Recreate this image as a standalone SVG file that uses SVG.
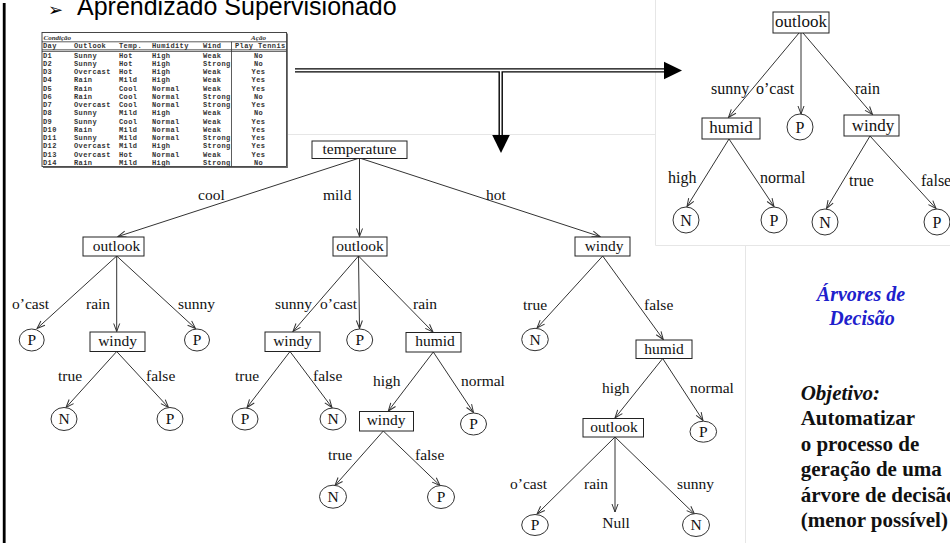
<svg xmlns="http://www.w3.org/2000/svg" width="950" height="543" viewBox="0 0 950 543">
<defs>
<style>
.t{font-family:"Liberation Serif","Times New Roman",serif;font-size:15.5px;fill:#111}
.tr{font-family:"Liberation Serif","Times New Roman",serif;font-size:16px;fill:#111}
.m{text-anchor:middle}
.box{fill:#fff;stroke:#222;stroke-width:1}
.leaf{fill:#fff;stroke:#333;stroke-width:1}
.e{stroke:#333;stroke-width:1;fill:none;marker-end:url(#ah)}
.tb{font-family:"Liberation Mono","Courier New",monospace;font-size:7px;font-weight:bold;letter-spacing:0.4px;fill:#333}
.tbi{font-family:"Liberation Serif",serif;font-size:7px;font-style:italic;font-weight:bold;fill:#333}
.tl{stroke:#333;stroke-width:0.8}
.faint{stroke:#e6e6e6;stroke-width:1;fill:none}
.blue{font-family:"Liberation Serif","Times New Roman",serif;font-size:20px;font-weight:bold;font-style:italic;fill:#2020cc;text-anchor:middle}
.obj{font-family:"Liberation Serif","Times New Roman",serif;font-size:21px;font-weight:bold;fill:#111}
</style>
<marker id="ah" markerWidth="10" markerHeight="8" refX="9" refY="4" orient="auto" markerUnits="userSpaceOnUse" viewBox="0 0 10 8">
<path d="M1,1 L9,4 L1,7" fill="none" stroke="#333" stroke-width="1"/>
</marker>
</defs>
<rect width="950" height="543" fill="#fff"/>
<g id="panels">
<path class="faint" d="M655.5,0 V245.5 H950 M745.5,245.5 V543 M288,134.5 H655.5"/>
</g>
<rect x="2.8" y="3" width="2.8" height="540" fill="#000"/>
<g id="title">
<text x="48" y="16" style="font-family:'DejaVu Sans',sans-serif;font-size:18px;fill:#000">➢</text>
<text x="77" y="15" style="font-family:'Liberation Sans',Arial,sans-serif;font-size:25px;fill:#000">Aprendizado Supervisionado</text>
</g>
<g id="table">
<rect x="42" y="32.5" width="244.5" height="134" fill="#fff" stroke="#333" stroke-width="0.9"/>
<path d="M287.3,33.5 V167.4 H43" stroke="#666" stroke-width="1.2" fill="none"/>
<line class="tl" x1="42" y1="41.8" x2="286.5" y2="41.8"/>
<line class="tl" x1="42" y1="49.8" x2="286.5" y2="49.8"/>
<line class="tl" x1="42" y1="51.4" x2="286.5" y2="51.4"/>
<line class="tl" x1="231.5" y1="41.8" x2="231.5" y2="166.5"/>
<text class="tbi" x="43.5" y="39.5">Condição</text>
<text class="tbi m" x="258.5" y="39.5">Ação</text>
<text class="tb" y="48"><tspan x="43">Day</tspan><tspan x="74">Outlook</tspan><tspan x="119">Temp.</tspan><tspan x="152">Humidity</tspan><tspan x="203">Wind</tspan><tspan x="235">Play Tennis</tspan></text>
<text class="tb" y="57.5"><tspan x="43">D1</tspan><tspan x="74">Sunny</tspan><tspan x="119">Hot</tspan><tspan x="152">High</tspan><tspan x="203">Weak</tspan></text>
<text class="tb" y="65.75"><tspan x="43">D2</tspan><tspan x="74">Sunny</tspan><tspan x="119">Hot</tspan><tspan x="152">High</tspan><tspan x="203">Strong</tspan></text>
<text class="tb" y="74"><tspan x="43">D3</tspan><tspan x="74">Overcast</tspan><tspan x="119">Hot</tspan><tspan x="152">High</tspan><tspan x="203">Weak</tspan></text>
<text class="tb" y="82.25"><tspan x="43">D4</tspan><tspan x="74">Rain</tspan><tspan x="119">Mild</tspan><tspan x="152">High</tspan><tspan x="203">Weak</tspan></text>
<text class="tb" y="90.5"><tspan x="43">D5</tspan><tspan x="74">Rain</tspan><tspan x="119">Cool</tspan><tspan x="152">Normal</tspan><tspan x="203">Weak</tspan></text>
<text class="tb" y="98.75"><tspan x="43">D6</tspan><tspan x="74">Rain</tspan><tspan x="119">Cool</tspan><tspan x="152">Normal</tspan><tspan x="203">Strong</tspan></text>
<text class="tb" y="107"><tspan x="43">D7</tspan><tspan x="74">Overcast</tspan><tspan x="119">Cool</tspan><tspan x="152">Normal</tspan><tspan x="203">Strong</tspan></text>
<text class="tb" y="115.25"><tspan x="43">D8</tspan><tspan x="74">Sunny</tspan><tspan x="119">Mild</tspan><tspan x="152">High</tspan><tspan x="203">Weak</tspan></text>
<text class="tb" y="123.5"><tspan x="43">D9</tspan><tspan x="74">Sunny</tspan><tspan x="119">Cool</tspan><tspan x="152">Normal</tspan><tspan x="203">Weak</tspan></text>
<text class="tb" y="131.75"><tspan x="43">D10</tspan><tspan x="74">Rain</tspan><tspan x="119">Mild</tspan><tspan x="152">Normal</tspan><tspan x="203">Weak</tspan></text>
<text class="tb" y="140"><tspan x="43">D11</tspan><tspan x="74">Sunny</tspan><tspan x="119">Mild</tspan><tspan x="152">Normal</tspan><tspan x="203">Strong</tspan></text>
<text class="tb" y="148.25"><tspan x="43">D12</tspan><tspan x="74">Overcast</tspan><tspan x="119">Mild</tspan><tspan x="152">High</tspan><tspan x="203">Strong</tspan></text>
<text class="tb" y="156.5"><tspan x="43">D13</tspan><tspan x="74">Overcast</tspan><tspan x="119">Hot</tspan><tspan x="152">Normal</tspan><tspan x="203">Weak</tspan></text>
<text class="tb" y="164.75"><tspan x="43">D14</tspan><tspan x="74">Rain</tspan><tspan x="119">Mild</tspan><tspan x="152">High</tspan><tspan x="203">Strong</tspan></text>
<g class="tb m">
<text x="258.5" y="57.5">No</text><text x="258.5" y="65.75">No</text><text x="258.5" y="74">Yes</text><text x="258.5" y="82.25">Yes</text><text x="258.5" y="90.5">Yes</text><text x="258.5" y="98.75">No</text><text x="258.5" y="107">Yes</text><text x="258.5" y="115.25">No</text><text x="258.5" y="123.5">Yes</text><text x="258.5" y="131.75">Yes</text><text x="258.5" y="140">Yes</text><text x="258.5" y="148.25">Yes</text><text x="258.5" y="156.5">Yes</text><text x="258.5" y="164.75">No</text>
</g>
</g>
<g id="big-arrows">
<path d="M295,70.4 H666 M500.7,70.4 V136" stroke="#000" stroke-width="4.4" fill="none"/>
<path d="M295,70.4 H666 M500.7,70.4 V136" stroke="#fff" stroke-width="1.6" fill="none"/>
<polygon points="664,61.7 682,70.5 664,79.3" fill="#000"/>
<polygon points="492.2,135 509.8,135 501,153" fill="#000"/>
</g>
<g id="connectors">
<line class="e" x1="359.5" y1="158" x2="118" y2="236.5"/>
<line class="e" x1="359.5" y1="158" x2="359.5" y2="236.5"/>
<line class="e" x1="359.5" y1="158" x2="600" y2="236.5"/>
<line class="e" x1="116.7" y1="256" x2="37" y2="328.5"/>
<line class="e" x1="116.7" y1="256" x2="116.7" y2="331.5"/>
<line class="e" x1="116.7" y1="256" x2="195.5" y2="328.5"/>
<line class="e" x1="116.7" y1="351.5" x2="66" y2="407.5"/>
<line class="e" x1="116.7" y1="351.5" x2="168.5" y2="407.5"/>
<line class="e" x1="358.5" y1="256" x2="293" y2="331.5"/>
<line class="e" x1="358.5" y1="256" x2="359.5" y2="328.5"/>
<line class="e" x1="358.5" y1="256" x2="433" y2="332"/>
<line class="e" x1="290" y1="351.5" x2="247" y2="407.5"/>
<line class="e" x1="290" y1="351.5" x2="332" y2="407.5"/>
<line class="e" x1="433.3" y1="352" x2="388.3" y2="411"/>
<line class="e" x1="433.3" y1="352" x2="473.5" y2="412.5"/>
<line class="e" x1="383.3" y1="431" x2="335" y2="485.5"/>
<line class="e" x1="383.3" y1="431" x2="440" y2="485.5"/>
<line class="e" x1="602.7" y1="256" x2="537" y2="328"/>
<line class="e" x1="602.7" y1="256" x2="663.3" y2="339.5"/>
<line class="e" x1="662.7" y1="358.5" x2="615" y2="418"/>
<line class="e" x1="662.7" y1="358.5" x2="703" y2="420.5"/>
<line class="e" x1="615" y1="437" x2="537" y2="514"/>
<line class="e" x1="615" y1="437" x2="615" y2="512"/>
<line class="e" x1="615" y1="437" x2="694.5" y2="514"/>
<line class="e" x1="799" y1="33" x2="728.5" y2="117.5"/>
<line class="e" x1="801" y1="33" x2="801" y2="114"/>
<line class="e" x1="803" y1="33" x2="872.5" y2="114.5"/>
<line class="e" x1="729" y1="139" x2="687" y2="206.5"/>
<line class="e" x1="729" y1="139" x2="774" y2="206.5"/>
<line class="e" x1="870" y1="136" x2="826.5" y2="208.5"/>
<line class="e" x1="870" y1="136" x2="936" y2="208.5"/>
</g>
<g id="edge-labels" class="t">
<text x="198" y="200">cool</text>
<text x="323" y="200">mild</text>
<text x="486" y="200">hot</text>
<text x="12" y="309">o’cast</text>
<text x="86" y="309">rain</text>
<text x="178" y="309">sunny</text>
<text x="58" y="381">true</text>
<text x="146" y="381">false</text>
<text x="275" y="309">sunny</text>
<text x="320" y="309">o’cast</text>
<text x="413" y="309">rain</text>
<text x="235" y="381">true</text>
<text x="313" y="381">false</text>
<text x="373" y="386">high</text>
<text x="461" y="386">normal</text>
<text x="328" y="459.5">true</text>
<text x="415" y="459.5">false</text>
<text x="523" y="310">true</text>
<text x="644" y="310">false</text>
<text x="602" y="393.3">high</text>
<text x="690" y="393.3">normal</text>
<text x="510" y="489.3">o’cast</text>
<text x="584" y="489.3">rain</text>
<text x="677" y="489.3">sunny</text>
</g>
<g id="edge-labels-top" class="tr">
<text x="711" y="94">sunny</text>
<text x="756" y="94">o’cast</text>
<text x="855" y="94">rain</text>
<text x="668" y="183">high</text>
<text x="760" y="183">normal</text>
<text x="849" y="186">true</text>
<text x="921" y="186">false</text>
</g>
<g id="n-temperature"><rect class="box" x="312" y="141" width="95" height="17.5"/><text class="t m" x="359.5" y="153.5">temperature</text></g>
<g id="n-l-outlook"><rect class="box" x="83" y="237" width="61" height="19"/><text class="t m" x="116.5" y="251">outlook</text></g>
<g id="n-l-p1"><ellipse class="leaf" cx="31.7" cy="340" rx="12.5" ry="11"/><text class="t m" x="31.7" y="345.2">P</text></g>
<g id="n-l-windy"><rect class="box" x="90" y="332" width="55" height="19.5"/><text class="t m" x="117.5" y="345.5">windy</text></g>
<g id="n-l-p2"><ellipse class="leaf" cx="197" cy="340" rx="12.5" ry="11"/><text class="t m" x="197" y="345.2">P</text></g>
<g id="n-l-n"><ellipse class="leaf" cx="64" cy="419" rx="13" ry="11.5"/><text class="t m" x="64" y="424.2">N</text></g>
<g id="n-l-p3"><ellipse class="leaf" cx="170" cy="419" rx="13" ry="11.5"/><text class="t m" x="170" y="424.2">P</text></g>
<g id="n-m-outlook"><rect class="box" x="333" y="237" width="54" height="19"/><text class="t m" x="360" y="251">outlook</text></g>
<g id="n-m-windy"><rect class="box" x="265" y="332" width="55" height="19.5"/><text class="t m" x="292.5" y="345.5">windy</text></g>
<g id="n-m-p1"><ellipse class="leaf" cx="359.7" cy="340" rx="13" ry="11"/><text class="t m" x="359.7" y="345.2">P</text></g>
<g id="n-m-humid"><rect class="box" x="406" y="332.5" width="55" height="19.5"/><text class="t m" x="435" y="346">humid</text></g>
<g id="n-m-p2"><ellipse class="leaf" cx="245" cy="419" rx="13" ry="11"/><text class="t m" x="245" y="424.2">P</text></g>
<g id="n-m-n1"><ellipse class="leaf" cx="333" cy="419" rx="13" ry="11"/><text class="t m" x="333" y="424.2">N</text></g>
<g id="n-m-windy2"><rect class="box" x="359.5" y="411.5" width="54" height="19.5"/><text class="t m" x="386" y="425">windy</text></g>
<g id="n-m-p3"><ellipse class="leaf" cx="473.5" cy="424" rx="13" ry="11"/><text class="t m" x="473.5" y="429.2">P</text></g>
<g id="n-m-n2"><ellipse class="leaf" cx="333" cy="496.7" rx="13.5" ry="11.5"/><text class="t m" x="333" y="501.9">N</text></g>
<g id="n-m-p4"><ellipse class="leaf" cx="441" cy="497" rx="13.5" ry="11.5"/><text class="t m" x="441" y="502.2">P</text></g>
<g id="n-r-windy"><rect class="box" x="575" y="237" width="55" height="19"/><text class="t m" x="604" y="250.5">windy</text></g>
<g id="n-r-n1"><ellipse class="leaf" cx="535" cy="339.5" rx="13.3" ry="11.2"/><text class="t m" x="535" y="344.7">N</text></g>
<g id="n-r-humid"><rect class="box" x="636" y="340" width="56" height="18.5"/><text class="t m" x="664" y="353.5">humid</text></g>
<g id="n-r-p1"><ellipse class="leaf" cx="703.3" cy="431.7" rx="13.3" ry="10.5"/><text class="t m" x="703.3" y="436.9">P</text></g>
<g id="n-r-outlook"><rect class="box" x="583" y="418.5" width="60.5" height="18.5"/><text class="t m" x="614" y="432">outlook</text></g>
<g id="n-r-p2"><ellipse class="leaf" cx="535" cy="525" rx="13.3" ry="10.5"/><text class="t m" x="535" y="530.2">P</text></g>
<g id="n-r-null"><text class="t m" x="616" y="527.5">Null</text></g>
<g id="n-r-n2"><ellipse class="leaf" cx="696" cy="525" rx="13.5" ry="11.5"/><text class="t m" x="696" y="530.2">N</text></g>
<g id="rt-outlook"><rect class="box" x="773" y="12" width="56" height="21"/><text class="tr m" x="801" y="26.5" style="font-size:17px">outlook</text></g>
<g id="rt-humid"><rect class="box" x="702" y="118" width="58" height="21"/><text class="tr m" x="731" y="133" style="font-size:17px">humid</text></g>
<g id="rt-p1"><circle class="leaf" cx="800" cy="127" r="13"/><text class="tr m" x="800" y="132.6">P</text></g>
<g id="rt-windy"><rect class="box" x="844" y="115" width="55" height="21"/><text class="tr m" x="873" y="130.5" style="font-size:17px">windy</text></g>
<g id="rt-n1"><circle class="leaf" cx="686" cy="220" r="13"/><text class="tr m" x="686" y="225.6">N</text></g>
<g id="rt-p2"><circle class="leaf" cx="774" cy="220" r="13"/><text class="tr m" x="774" y="225.6">P</text></g>
<g id="rt-n2"><circle class="leaf" cx="825" cy="222" r="13"/><text class="tr m" x="825" y="227.6">N</text></g>
<g id="rt-p3"><circle class="leaf" cx="937" cy="222" r="13"/><text class="tr m" x="937" y="227.6">P</text></g>
<g id="side-text">
<text class="blue" x="861" y="301">Árvores de</text>
<text class="blue" x="862" y="325">Decisão</text>
<text class="obj" x="800.7" y="400" style="font-style:italic">Objetivo:</text>
<text class="obj" x="800.7" y="425">Automatizar</text>
<text class="obj" x="800.7" y="450.5">o processo de</text>
<text class="obj" x="800.7" y="476">geração de uma</text>
<text class="obj" x="800.7" y="501.5">árvore de decisão</text>
<text class="obj" x="800.7" y="527">(menor possível)</text>
</g>
</svg>
